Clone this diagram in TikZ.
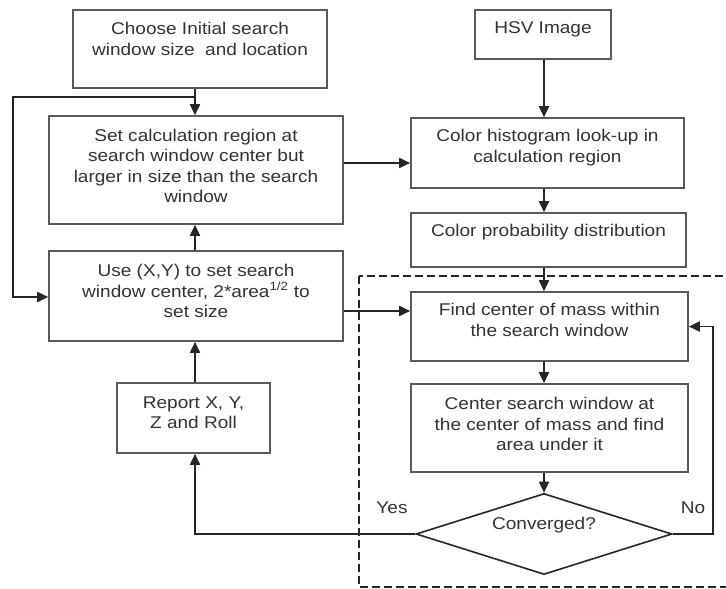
\documentclass[tikz,border=0pt]{standalone}
\usepackage{fontspec}
\setmainfont[FakeStretch=1.12]{Liberation Sans}
\usetikzlibrary{shapes.geometric,arrows.meta}
\definecolor{boxgray}{HTML}{5A5A5A}
\definecolor{linegray}{HTML}{262626}
\definecolor{txtgray}{HTML}{333333}
\begin{document}
\begin{tikzpicture}[x=1pt,y=-1pt,
  box/.style={draw=boxgray, line width=1.6pt, rectangle, inner sep=0pt},
  txt/.style={align=center, text=txtgray, font=\fontsize{17}{20.5}\selectfont, inner sep=0pt},
  arr/.style={draw=linegray, line width=1.8pt, -{Triangle[length=11pt,width=10pt]}},
  frame/.style={draw=linegray, line width=1.5pt, dash pattern=on 8pt off 4pt}]
\clip (0,0) rectangle (726,589);
\fill[white] (0,0) rectangle (726,589);

% boxes
\node[box, minimum width=254, minimum height=78] (A) at (200,49) {};
\node[box, minimum width=294, minimum height=108] (B) at (196,170) {};
\node[box, minimum width=294, minimum height=90] (C) at (196,296) {};
\node[box, minimum width=153, minimum height=70] (D) at (193.5,418) {};
\node[box, minimum width=136, minimum height=49] (hsv) at (543,34.5) {};
\node[box, minimum width=273, minimum height=70] (hist) at (547.5,153) {};
\node[box, minimum width=275, minimum height=54] (prob) at (548.5,240) {};
\node[box, minimum width=277, minimum height=69] (find) at (549.5,326.5) {};
\node[box, minimum width=277, minimum height=88] (cent) at (549.5,428) {};
\node[draw=linegray, line width=1.6pt, diamond, aspect=3.16, minimum width=256, minimum height=81, inner sep=0pt] (dia) at (544,534) {};

% texts
\node[txt] (At) at (200,39) {Choose Initial search\\window size\ \ and location};
\node[txt] (Bt) at (196,166) {Set calculation region at\\search window center but\\larger in size than the search\\window};
\node[txt] (Ct) at (196,291) {Use (X,Y) to set search\\window center, 2*area\textsuperscript{1/2} to\\set size};
\node[txt] (Dt) at (193.5,412.5) {Report X, Y,\\Z and Roll};
\node[txt] (hsvt) at (543,29.5) {HSV Image};
\node[txt] (histt) at (547.5,147.5) {Color histogram look-up in\\calculation region};
\node[txt] (probt) at (548.5,232) {Color probability distribution};
\node[txt] (findt) at (549.5,320) {Find center of mass within\\the search window};
\node[txt] (centt) at (549.5,424) {Center search window at\\the center of mass and find\\area under it};
\node[txt] (diat) at (544,525) {Converged?};
\node[txt] (yes) at (392,508) {Yes};
\node[txt] (no) at (693,508) {No};

% dashed frame
\draw[frame] (359,276) rectangle (728,587);

% helper coordinates
\coordinate (lx) at (195,0);
\coordinate (rx) at (544,0);
\coordinate (fb) at (195,97);

% connectors
\draw[arr] (A.south -| lx) -- (B.north -| lx);
\draw[arr] (fb) -- (13,97) -- (13,297) -- (C.west |- 0,297);
\draw[arr] (C.north -| lx) -- (B.south -| lx);
\draw[arr] (D.north -| lx) -- (C.south -| lx);
\draw[arr] (dia.west) -| (D.south -| lx);
\draw[arr] (B.east |- 0,163) -- (hist.west |- 0,163);
\draw[arr] (hsv.south -| rx) -- (hist.north -| rx);
\draw[arr] (hist.south -| rx) -- (prob.north -| rx);
\draw[arr] (prob.south -| rx) -- (find.north -| rx);
\draw[arr] (find.south -| rx) -- (cent.north -| rx);
\draw[arr] (cent.south -| rx) -- (dia.north);
\draw[arr] (C.east |- 0,311) -- (find.west |- 0,311);
\draw[arr] (dia.east) -- (713,534) |- (find.east);
\end{tikzpicture}
\end{document}
